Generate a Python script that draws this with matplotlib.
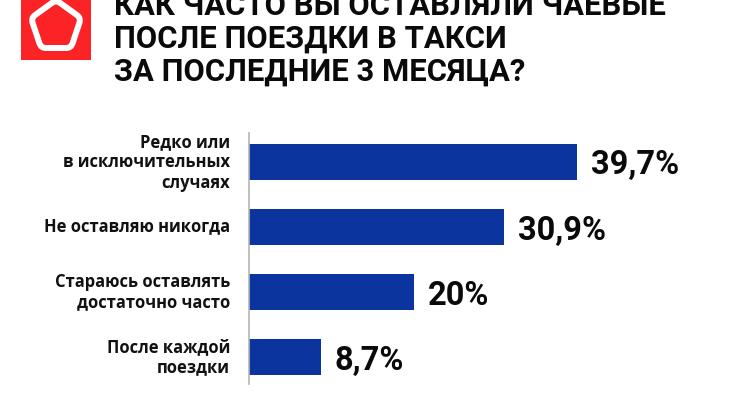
import matplotlib
matplotlib.use('Agg')
import matplotlib.pyplot as plt
from matplotlib.patches import PathPatch, Rectangle
from matplotlib.path import Path
from matplotlib.transforms import ScaledTranslation

W, H = 750, 400

title_lines = ['КАК ЧАСТО ВЫ ОСТАВЛЯЛИ ЧАЕВЫЕ', 'ПОСЛЕ ПОЕЗДКИ В ТАКСИ', 'ЗА ПОСЛЕДНИЕ 3 МЕСЯЦА?']
categories = ['Редко или\nв исключительных\nслучаях', 'Не оставляю никогда',
              'Стараюсь оставлять\nдостаточно часто', 'После каждой\nпоездки']
values = [39.7, 30.9, 20, 8.7]
value_labels = ['39,7%', '30,9%', '20%', '8,7%']
pentagon = [(56, 0), (81, 18), (71, 48), (41, 48), (31, 18)]


def rounded(pts, cut=0.16):
    # closed polygon with each corner replaced by a quadratic curve
    verts, codes = [], []
    n = len(pts)
    for i in range(n):
        px, py = pts[i - 1]
        cx, cy = pts[i]
        nx, ny = pts[(i + 1) % n]
        start = (cx + (px - cx) * cut, cy + (py - cy) * cut)
        end = (cx + (nx - cx) * cut, cy + (ny - cy) * cut)
        verts += [start, (cx, cy), end]
        codes += [Path.MOVETO if i == 0 else Path.LINETO, Path.CURVE3, Path.CURVE3]
    verts.append(verts[0])
    codes.append(Path.CLOSEPOLY)
    return Path(verts, codes)


fig = plt.figure(figsize=(W / 100, H / 100), dpi=100, facecolor='white')

# overlay in pixel coordinates for the logo and heading
bg = fig.add_axes([0, 0, 1, 1])
bg.set_xlim(0, W)
bg.set_ylim(H, 0)
bg.axis('off')

bg.add_patch(Rectangle((21, -5), 70, 65, color='#fc2327', lw=0))
bg.add_patch(PathPatch(rounded(pentagon), facecolor='#fc2327', edgecolor='white', lw=4.3))

for i, line in enumerate(title_lines):
    bg.text(114, 15 + i * 32.7, line, family='Roboto', weight='bold', fontsize=22.3,
            color='#0a0a0a', va='baseline', ha='left')

# bars
ax = fig.add_axes([249 / W, 1 - 384 / H, 500 / W, 251 / H])
ax.patch.set_alpha(0)
ax.set_xlim(0, 500 / 8.26)
ax.set_ylim(3.415, -0.446)
y = list(range(len(values)))
ax.barh(y, values, height=36 / 65, color='#0c349e')

for s in ['top', 'right', 'bottom']:
    ax.spines[s].set_visible(False)
ax.spines['left'].set_color('#b5b5b5')
ax.spines['left'].set_linewidth(1.2)
ax.set_xticks([])
ax.set_yticks(y)
ax.set_yticklabels(categories, family='Open Sans', weight='bold', fontsize=11.9,
                   color='#111111', linespacing=1.17)
ax.tick_params(axis='y', length=0, pad=13.5)
# category labels sit slightly above the bar centres
for t in ax.get_yticklabels():
    t.set_transform(t.get_transform() + ScaledTranslation(0, 3 / 100, fig.dpi_scale_trans))

for yi, v, lab in zip(y, values, value_labels):
    ax.annotate(lab, (v, yi), xytext=(10, 0), textcoords='offset points', family='Roboto',
                weight='bold', fontsize=23.5, color='#0a0a0a', va='center_baseline', ha='left')

fig.savefig('out.png', dpi=100)
